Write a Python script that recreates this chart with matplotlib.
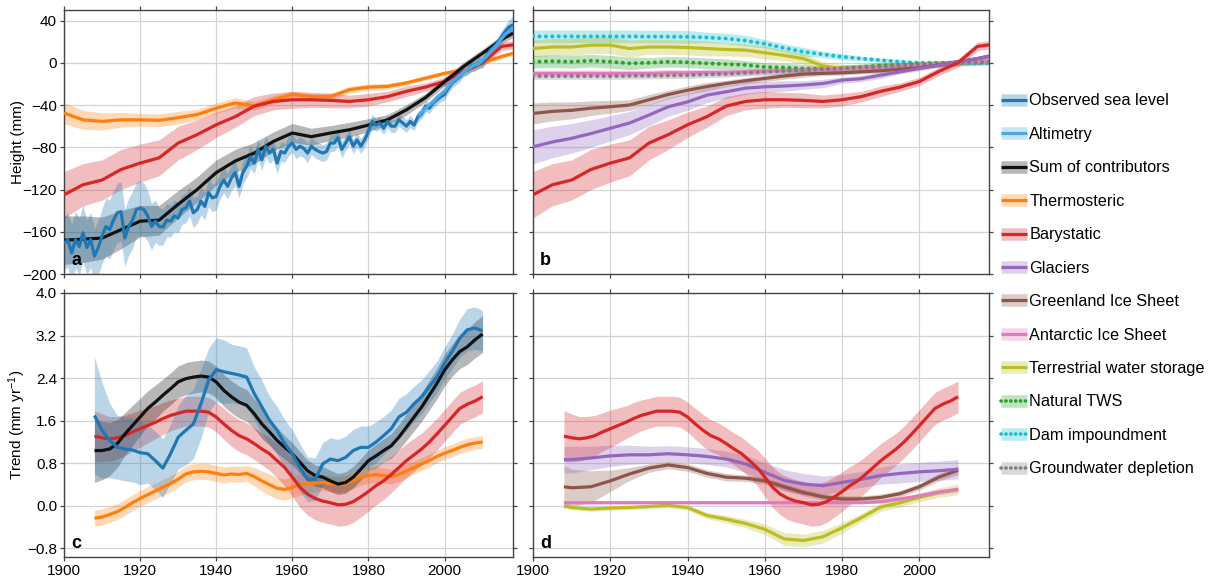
import numpy as np
import matplotlib
matplotlib.use("Agg")
import matplotlib.pyplot as plt
from matplotlib.lines import Line2D

plt.rcParams['font.family'] = ['Liberation Sans', 'DejaVu Sans']
plt.rcParams['mathtext.fontset'] = 'custom'
plt.rcParams['mathtext.rm'] = 'Liberation Sans'
plt.rcParams['mathtext.it'] = 'Liberation Sans'
plt.rcParams['font.size'] = 11

# ---------------- Panel a/b : heights (mm) ----------------
years_obs = list(range(1900, 2019))
obs_height = [-171, -167.5, -180, -167.5, -174, -161, -175, -167.5, -183, -175,
              -164, -155, -158, -149, -142, -141, -166, -155, -149, -139,
              -137.5, -139, -145, -155, -150, -155, -155.5, -149, -150, -145,
              -147, -139, -137.5, -131, -142, -139, -131, -136, -123, -128,
              -126.5, -117, -111, -117, -109, -104, -117, -104, -98, -89,
              -95, -82, -92, -79, -85.5, -82, -95, -84, -85.5, -79,
              -76, -82, -79, -81, -85.5, -79, -82, -84, -85.5, -84,
              -76, -76, -71, -82, -76, -70, -79, -73, -79, -73,
              -65, -55.5, -59, -57, -62, -55.5, -60, -60, -54, -57,
              -60, -55.5, -59, -51, -48, -41, -43, -38, -35, -32,
              -30, -24, -19, -16, -13, -8, -7, -3, -3, 0,
              0, 6, 12, 15, 19, 25, 30, 34, 36]
obs_height_unc = [25, 26, 27, 27, 27, 27, 26, 26, 26, 26,
                  26, 27, 28, 28, 28, 28, 27, 27, 27, 26,
                  26, 25, 24, 22, 20, 18, 17, 16, 15, 15,
                  14, 14, 14, 14, 14, 13, 13, 13, 13, 13,
                  13, 12, 12, 12, 12, 12, 11, 11, 11, 11,
                  10, 10, 10, 10, 10, 10, 10, 9, 9, 9,
                  9, 9, 9, 9, 9, 8, 8, 8, 8, 8,
                  8, 8, 8, 8, 7, 7, 7, 7, 7, 7,
                  7, 7, 6, 6, 6, 6, 6, 6, 6, 6,
                  6, 6, 5, 5, 5, 5, 5, 5, 5, 5,
                  5, 5, 5, 5, 5, 5, 5, 5, 5, 5,
                  5, 5, 5, 5, 5, 5, 6, 7, 8]

years_alt = list(range(1993, 2019))
alt_height = [-50, -47, -43, -40, -37, -33, -30, -27, -22, -18,
              -15, -12, -9, -6, -4, -2, -1, 3, 6, 10,
              14, 18, 23, 27, 30, 33]
alt_height_unc = [4] * 26

years_h = [1900, 1905, 1910, 1915, 1920, 1925, 1930, 1935, 1940, 1945,
           1950, 1955, 1960, 1965, 1970, 1975, 1980, 1985, 1990, 1995,
           2000, 2005, 2010, 2015, 2018]
sum_height = [-168, -167, -166, -158, -150, -149, -134, -120, -104, -93,
              -85.5, -74.5, -66.5, -70, -66.5, -63.4, -59, -54, -44.5, -33,
              -18, -3.5, 9, 22, 28]
sum_height_unc = [23, 22, 20, 18, 15, 14, 13, 12, 12, 11,
                  10, 9, 9, 8, 7, 7, 6, 5, 5, 4, 4, 4, 4, 4, 4]
thermo_height = [-47.6, -54, -55.5, -54, -54, -54.5, -52, -49, -43, -38,
                 -40.7, -35, -30, -32, -32, -25.5, -23, -22.4, -19, -14.5,
                 -10, -6.6, 0, 6, 9]
thermo_height_unc = [10, 9, 8, 7, 6, 6, 6, 5, 5, 5, 4, 4, 3, 3, 3, 3, 3, 3,
                     2, 2, 2, 2, 2, 2, 2]
bary_height = [-125, -115.5, -111, -101, -95, -90, -76, -68, -58.7, -51,
               -41, -36.6, -35, -35, -35.6, -36.6, -35, -32, -27, -23,
               -17.7, -8.2, 0, 15.5, 17]
bary_height_unc = [22, 20, 19, 19, 18, 17, 16, 14, 12, 10, 9, 8, 8, 7, 7, 6,
                   6, 5, 5, 4, 4, 4, 4, 4, 4]
glac_height = [-79.5, -75, -71.5, -67, -62, -57, -49.5, -41.6, -37, -30.6,
               -27.5, -24, -22.7, -22, -21, -19.6, -16.4, -15, -11.7, -8.5,
               -5.4, -2.2, 1, 4, 6.3]
glac_height_unc = [16, 15, 14, 13, 12, 11, 10, 9, 8, 7, 6, 6, 5, 5, 4, 4, 3,
                   3, 3, 2, 2, 2, 2, 2, 2]
gis_height = [-48, -46, -45, -43, -41.6, -40, -35, -30, -26, -22.5,
              -19.6, -17, -14.8, -12.5, -10.7, -10, -9.5, -8.5, -7.6, -6,
              -4.7, -2, 1, 4, 6.3]
gis_height_unc = [10, 9, 8, 7, 6, 5, 5, 4, 4, 4, 3, 3, 3, 3, 3, 2, 2, 2, 2,
                  2, 2, 2, 2, 2, 2]
ais_height = [-10, -10, -10, -10, -10, -10, -10, -9.5, -9.5, -9,
              -9, -8.5, -8, -7.5, -7, -6.5, -6, -5, -4, -3,
              -2.5, -1.5, 0, 1, 2]
ais_height_unc = [3] * 25
tws_height = [13.5, 15, 15, 16.7, 16.7, 13.5, 15, 15, 14.5, 13.5,
              12.6, 12, 9.5, 7, 4, -3, -5.4, -5.4, -4, -3,
              -2, -1, 0, 1, 1]
tws_height_unc = [8, 8, 8, 8, 8, 8, 7, 7, 7, 7, 6, 6, 6, 5, 5, 4, 4, 3, 3,
                  2, 2, 2, 2, 2, 2]
nat_height = [1, 1.5, 1, 2, 1, -0.5, 0, 1, 0.5, -0.5,
              -1.3, -2, -4, -4.5, -5.4, -6, -5.4, -4, -2.5, -2,
              -1, -0.5, 0, 0.5, 1]
nat_height_unc = [6, 6, 6, 6, 6, 6, 5, 5, 5, 5, 5, 4, 4, 4, 4, 3, 3, 3, 3,
                  2, 2, 2, 2, 2, 2]
dam_height = [25, 25, 25, 25, 25, 25, 24.8, 24.7, 24.6, 24,
              23, 21, 18, 14, 10.4, 8, 5.7, 4, 2.5, 1,
              0, 0, 0, -0.5, -0.5]
dam_height_unc = [6, 6, 6, 6, 6, 6, 6, 6, 6, 5, 5, 5, 4, 4, 4, 3, 3, 2, 2,
                  2, 1, 1, 1, 1, 1]
gwd_height = [-12.6, -12.6, -12.6, -12.6, -12.6, -12.4, -12.2, -12, -11.7, -11,
              -10.5, -9.5, -8.5, -7.7, -7, -6.2, -5.4, -4.6, -3.8, -2.7,
              -1.6, -0.8, 0, 0.5, 1]
gwd_height_unc = [3] * 25

# ---------------- Panel c : trends (mm/yr) ----------------
years_c = list(range(1908, 2011, 2))
obs_trend = [1.70, 1.42, 1.23, 1.10, 1.07, 1.05, 1.00, 0.98, 0.85, 0.71,
             0.98, 1.29, 1.42, 1.54, 1.92, 2.36, 2.56, 2.52, 2.49, 2.46,
             2.42, 2.11, 1.86, 1.61, 1.42, 1.17, 0.98, 0.72, 0.50, 0.50,
             0.79, 0.88, 0.85, 0.91, 1.04, 1.10, 1.10, 1.20, 1.32, 1.45,
             1.67, 1.76, 1.92, 2.05, 2.24, 2.42, 2.68, 2.90, 3.15, 3.31,
             3.34, 3.29]
obs_trend_unc = [1.1, 0.9, 0.7, 0.6, 0.6, 0.6, 0.6, 0.55, 0.55, 0.55,
                 0.55, 0.6, 0.65, 0.65, 0.65, 0.6, 0.6, 0.6, 0.55, 0.55,
                 0.55, 0.5, 0.5, 0.45, 0.45, 0.45, 0.45, 0.45, 0.42, 0.4,
                 0.4, 0.4, 0.4, 0.4, 0.4, 0.4, 0.4, 0.38, 0.36, 0.35,
                 0.35, 0.35, 0.33, 0.32, 0.3, 0.3, 0.3, 0.32, 0.36, 0.4,
                 0.4, 0.38]
sum_trend = [1.04, 1.04, 1.07, 1.17, 1.35, 1.51, 1.67, 1.83, 1.95, 2.08,
             2.20, 2.33, 2.39, 2.42, 2.44, 2.42, 2.33, 2.17, 2.05, 1.95,
             1.89, 1.73, 1.54, 1.39, 1.23, 1.10, 0.98, 0.82, 0.66, 0.57,
             0.54, 0.47, 0.41, 0.44, 0.54, 0.69, 0.85, 0.94, 1.04, 1.13,
             1.29, 1.48, 1.67, 1.86, 2.08, 2.30, 2.55, 2.74, 2.90, 2.99,
             3.12, 3.23]
sum_trend_unc = [0.6, 0.55, 0.5, 0.45, 0.4, 0.38, 0.35, 0.33, 0.32, 0.3,
                 0.3, 0.3, 0.3, 0.3, 0.3, 0.3, 0.3, 0.3, 0.3, 0.3,
                 0.3, 0.28, 0.27, 0.25, 0.24, 0.22, 0.21, 0.2, 0.2, 0.2,
                 0.2, 0.2, 0.2, 0.2, 0.2, 0.2, 0.2, 0.22, 0.22, 0.23,
                 0.24, 0.25, 0.26, 0.27, 0.28, 0.29, 0.3, 0.3, 0.32, 0.33,
                 0.34, 0.35]
bary_trend = [1.31, 1.28, 1.26, 1.28, 1.32, 1.39, 1.45, 1.51, 1.57, 1.64,
              1.70, 1.74, 1.78, 1.78, 1.78, 1.76, 1.67, 1.54, 1.42, 1.32,
              1.26, 1.17, 1.07, 0.98, 0.85, 0.72, 0.54, 0.35, 0.22, 0.14,
              0.09, 0.06, 0.02, 0.03, 0.08, 0.17, 0.27, 0.38, 0.47, 0.59,
              0.72, 0.85, 0.96, 1.07, 1.20, 1.35, 1.51, 1.67, 1.83, 1.91,
              1.97, 2.05]
bary_trend_unc = [0.48, 0.45, 0.42, 0.4, 0.38, 0.36, 0.35, 0.33, 0.31, 0.3,
                  0.29, 0.28, 0.28, 0.28, 0.28, 0.28, 0.28, 0.29, 0.3, 0.3,
                  0.3, 0.3, 0.3, 0.31, 0.32, 0.34, 0.36, 0.38, 0.39, 0.4,
                  0.4, 0.4, 0.4, 0.4, 0.39, 0.38, 0.37, 0.36, 0.35, 0.34,
                  0.33, 0.32, 0.31, 0.3, 0.3, 0.3, 0.3, 0.3, 0.3, 0.3,
                  0.3, 0.3]
thermo_trend = [-0.23, -0.21, -0.16, -0.11, -0.03, 0.06, 0.14, 0.21, 0.28, 0.35,
                0.42, 0.50, 0.60, 0.64, 0.65, 0.64, 0.61, 0.58, 0.60, 0.59,
                0.61, 0.55, 0.47, 0.40, 0.33, 0.31, 0.35, 0.40, 0.42, 0.43,
                0.44, 0.42, 0.40, 0.42, 0.48, 0.54, 0.57, 0.59, 0.57, 0.55,
                0.59, 0.66, 0.72, 0.79, 0.85, 0.93, 0.99, 1.04, 1.10, 1.15,
                1.18, 1.20]
thermo_trend_unc = [0.15, 0.15, 0.15, 0.15, 0.15, 0.15, 0.15, 0.15, 0.15, 0.15,
                    0.15, 0.15, 0.15, 0.15, 0.15, 0.15, 0.15, 0.15, 0.15, 0.15,
                    0.15, 0.17, 0.19, 0.2, 0.2, 0.2, 0.2, 0.2, 0.18, 0.16,
                    0.15, 0.15, 0.15, 0.15, 0.15, 0.15, 0.15, 0.15, 0.14, 0.14,
                    0.13, 0.13, 0.12, 0.12, 0.12, 0.12, 0.12, 0.12, 0.12, 0.12,
                    0.12, 0.12]

# ---------------- Panel d : contributor trends ----------------
years_d = [1908, 1910, 1915, 1920, 1925, 1930, 1935, 1940, 1945, 1950, 1955,
           1960, 1965, 1970, 1975, 1980, 1985, 1990, 1995, 2000, 2005, 2010]
glac_trend = [0.87, 0.87, 0.90, 0.94, 0.96, 0.96, 0.98, 0.96, 0.93, 0.88, 0.79,
              0.63, 0.48, 0.41, 0.38, 0.44, 0.50, 0.57, 0.61, 0.64, 0.66, 0.69]
glac_trend_unc = [0.25, 0.25, 0.22, 0.2, 0.18, 0.16, 0.15, 0.15, 0.15, 0.15, 0.16,
                  0.18, 0.2, 0.2, 0.18, 0.15, 0.15, 0.16, 0.18, 0.18, 0.18, 0.18]
gis_trend = [0.36, 0.34, 0.36, 0.47, 0.60, 0.71, 0.77, 0.72, 0.61, 0.54, 0.52,
             0.47, 0.36, 0.25, 0.17, 0.13, 0.13, 0.16, 0.23, 0.36, 0.54, 0.67]
gis_trend_unc = [0.4, 0.35, 0.3, 0.2, 0.12, 0.08, 0.07, 0.07, 0.07, 0.07, 0.06,
                 0.06, 0.06, 0.06, 0.06, 0.06, 0.06, 0.06, 0.06, 0.06, 0.07, 0.08]
ais_trend = [0.06, 0.06, 0.06, 0.06, 0.06, 0.06, 0.06, 0.06, 0.06, 0.06, 0.06,
             0.06, 0.06, 0.06, 0.06, 0.06, 0.06, 0.08, 0.13, 0.19, 0.26, 0.31]
ais_trend_unc = [0.02] * 17 + [0.03, 0.04, 0.05, 0.05, 0.05]
tws_trend = [0.0, -0.03, -0.06, -0.04, -0.03, -0.01, 0.01, -0.03, -0.18, -0.25, -0.33,
             -0.44, -0.62, -0.65, -0.58, -0.41, -0.22, -0.02, 0.06, 0.16, 0.25, 0.31]
tws_trend_unc = [0.04, 0.04, 0.04, 0.04, 0.04, 0.04, 0.04, 0.05, 0.06, 0.07, 0.08,
                 0.1, 0.12, 0.12, 0.12, 0.1, 0.08, 0.08, 0.08, 0.08, 0.09, 0.1]

# ---------------- Legend ----------------
legend_labels = ['Observed sea level', 'Altimetry', 'Sum of contributors',
                 'Thermosteric', 'Barystatic', 'Glaciers', 'Greenland Ice Sheet',
                 'Antarctic Ice Sheet', 'Terrestrial water storage', 'Natural TWS',
                 'Dam impoundment', 'Groundwater depletion']
colors = {
    'obs': '#1f77b4', 'alt': '#4da8e6', 'sum': '#111111', 'thermo': '#ff7f0e',
    'bary': '#d62728', 'glac': '#9467bd', 'gis': '#8c564b', 'ais': '#e377c2',
    'tws': '#bcbd22', 'nat': '#2ca02c', 'dam': '#17becf', 'gwd': '#7f7f7f',
}
BAND_ALPHA = 0.3
dotted = {'nat', 'dam', 'gwd'}
LW = 2.3
DOT = (0, (0.05, 1.6))

fig = plt.figure(figsize=(12.17, 5.82), dpi=100)
L1, R1 = 64 / 1217, 513 / 1217
L2, R2 = 533 / 1217, 989 / 1217
T1, B1 = 1 - 10 / 582, 1 - 274 / 582
T2, B2 = 1 - 293 / 582, 1 - 557 / 582
axa = fig.add_axes([L1, B1, R1 - L1, T1 - B1])
axb = fig.add_axes([L2, B1, R2 - L2, T1 - B1])
axc = fig.add_axes([L1, B2, R1 - L1, T2 - B2])
axd = fig.add_axes([L2, B2, R2 - L2, T2 - B2])


def band_line(ax, key, x, y, u, z=2):
    x = np.asarray(x, float)
    y = np.asarray(y, float)
    u = np.asarray(u, float)
    c = colors[key]
    ax.fill_between(x, y - u, y + u, color=c, alpha=BAND_ALPHA, lw=0, zorder=z)
    if key in dotted:
        ax.plot(x, y, color=c, lw=2.8, linestyle=DOT, dash_capstyle='round', zorder=z + 5)
    else:
        ax.plot(x, y, color=c, lw=LW, solid_capstyle='butt', zorder=z + 5)


# panel a
band_line(axa, 'thermo', years_h, thermo_height, thermo_height_unc)
band_line(axa, 'bary', years_h, bary_height, bary_height_unc)
band_line(axa, 'sum', years_h, sum_height, sum_height_unc)
band_line(axa, 'obs', years_obs, obs_height, obs_height_unc)
band_line(axa, 'alt', years_alt, alt_height, alt_height_unc)

# panel b
band_line(axb, 'dam', years_h, dam_height, dam_height_unc)
band_line(axb, 'tws', years_h, tws_height, tws_height_unc)
band_line(axb, 'nat', years_h, nat_height, nat_height_unc)
band_line(axb, 'ais', years_h, ais_height, ais_height_unc)
band_line(axb, 'gwd', years_h, gwd_height, gwd_height_unc)
band_line(axb, 'gis', years_h, gis_height, gis_height_unc)
band_line(axb, 'glac', years_h, glac_height, glac_height_unc)
band_line(axb, 'bary', years_h, bary_height, bary_height_unc)

# panel c
band_line(axc, 'thermo', years_c, thermo_trend, thermo_trend_unc)
band_line(axc, 'bary', years_c, bary_trend, bary_trend_unc)
band_line(axc, 'sum', years_c, sum_trend, sum_trend_unc)
band_line(axc, 'obs', years_c, obs_trend, obs_trend_unc)

# panel d
band_line(axd, 'tws', years_d, tws_trend, tws_trend_unc)
band_line(axd, 'ais', years_d, ais_trend, ais_trend_unc)
band_line(axd, 'gis', years_d, gis_trend, gis_trend_unc)
band_line(axd, 'glac', years_d, glac_trend, glac_trend_unc)
band_line(axd, 'bary', years_c, bary_trend, bary_trend_unc)

xticks = [1900, 1920, 1940, 1960, 1980, 2000]
h_ticks = [-200, -160, -120, -80, -40, 0, 40]
t_ticks = [-0.8, 0.0, 0.8, 1.6, 2.4, 3.2, 4.0]

for ax, letter in zip([axa, axb, axc, axd], ['a', 'b', 'c', 'd']):
    ax.set_xlim(1900, 2018)
    ax.set_xticks(xticks)
    ax.grid(True, color='#d4d4d4', lw=0.9, zorder=0)
    ax.set_axisbelow(True)
    for s in ax.spines.values():
        s.set_color('#444444')
        s.set_linewidth(1.0)
    ax.tick_params(direction='out', length=3, width=0.9, color='#444444',
                   top=True, right=True, labelsize=11, pad=2)
    ax.text(0.016, 0.018, letter, transform=ax.transAxes, fontsize=13,
            fontweight='bold', ha='left', va='bottom', zorder=20)

for ax in (axa, axb):
    ax.set_ylim(-200, 50)
    ax.set_yticks(h_ticks)
    ax.tick_params(labelbottom=False)
for ax in (axc, axd):
    ax.set_ylim(-0.96, 4.0)
    ax.set_yticks(t_ticks)
for ax in (axb, axd):
    ax.tick_params(labelleft=False)

axa.set_yticklabels([f'{v:d}'.replace('-', '\u2212') for v in h_ticks])
axc.set_yticklabels([f'{v:.1f}'.replace('-', '\u2212') for v in t_ticks])
axa.set_ylabel('Height (mm)', fontsize=11)
axc.set_ylabel(r'Trend (mm yr$^{-1}$)', fontsize=11)
axa.yaxis.set_label_coords(-0.087, 0.5)
axc.yaxis.set_label_coords(-0.081, 0.5)

keys = ['obs', 'alt', 'sum', 'thermo', 'bary', 'glac', 'gis', 'ais', 'tws',
        'nat', 'dam', 'gwd']
handles = []
for k in keys:
    band = Line2D([], [], color=colors[k], alpha=0.3, lw=9, solid_capstyle='butt')
    if k in dotted:
        ln = Line2D([], [], color=colors[k], lw=2.6, linestyle=(0, (0.05, 1.3)),
                    dash_capstyle='round')
    else:
        ln = Line2D([], [], color=colors[k], lw=2.3, solid_capstyle='butt')
    handles.append((band, ln))

fig.legend(handles, legend_labels, loc='upper left',
           bbox_to_anchor=(0.8195, 0.845), frameon=False, fontsize=11.7,
           handlelength=1.62, handletextpad=0.15, labelspacing=1.135,
           borderpad=0.2, borderaxespad=0)

fig.savefig('out.png', dpi=100)
